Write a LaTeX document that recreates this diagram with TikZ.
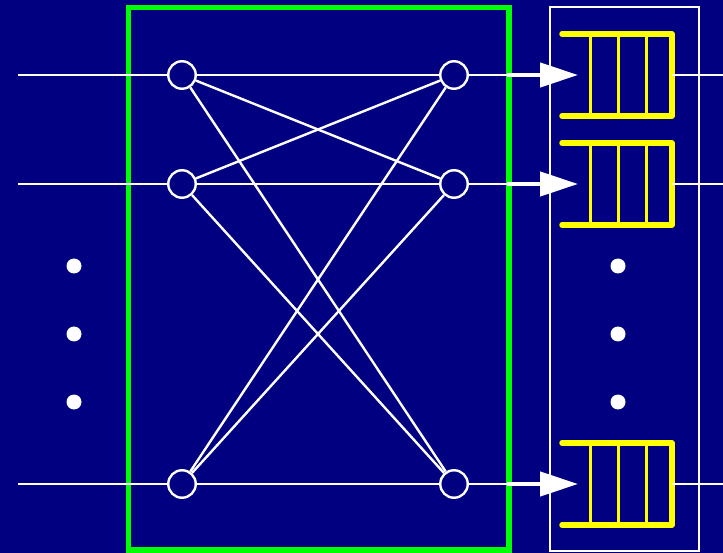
\documentclass[tikz,border=0pt]{standalone}
\usetikzlibrary{arrows.meta}
\definecolor{bg}{RGB}{0,0,128}
\definecolor{grn}{RGB}{0,255,0}
\definecolor{ylw}{RGB}{255,255,0}
\tikzset{
  sw/.style={circle,draw=white,line width=2.4pt,minimum size=27.5pt,inner sep=0pt},
  wire/.style={draw=white,line width=2.4pt},
  thickarrow/.style={draw=white,fill=white,line width=4.5pt,-{Triangle[length=38pt,width=24pt]}},
  qline/.style={draw=ylw,line width=5.5pt,line cap=round,line join=round},
  qdiv/.style={draw=ylw,line width=3pt},
  dotmark/.style={circle,fill=white,inner sep=0pt,minimum size=15pt},
}
\begin{document}
\begin{tikzpicture}[x=1pt,y=-1pt]
\useasboundingbox (0,0) rectangle (723,553);
\fill[bg] (0,0) rectangle (723,553);
% boxes
\draw[grn,line width=5.5pt] (128.5,7.5) rectangle (509,550);
\draw[white,line width=2.2pt] (550,7) rectangle (699,551);
% switch nodes
\node[sw] (L1) at (182,75) {};
\node[sw] (L2) at (182,184) {};
\node[sw] (L3) at (182,484) {};
\node[sw] (R1) at (454,75) {};
\node[sw] (R2) at (454,184) {};
\node[sw] (R3) at (454,484) {};
% input ends
\coordinate (I1) at (18,75);
\coordinate (I2) at (18,184);
\coordinate (I3) at (18,484);
\draw[wire] (I1) -- (L1);
\draw[wire] (I2) -- (L2);
\draw[wire] (I3) -- (L3);
% crossbar
\foreach \a in {1,2,3}{
  \foreach \b in {1,2,3}{
    \draw[wire] (L\a) -- (R\b);
  }
}
% arrows to queues
\foreach \i/\y in {1/75,2/184,3/484}{
  \coordinate (S\i) at (507,\y);
  \coordinate (T\i) at (578,\y);
  \draw[wire] (R\i) -- (S\i);
  \draw[thickarrow] (S\i) -- (T\i);
}
% queues
\foreach \i/\y in {1/75,2/184,3/484}{
  \draw[qdiv] (590.5,\y-41) -- (590.5,\y+41);
  \draw[qdiv] (618,\y-41) -- (618,\y+41);
  \draw[qdiv] (646,\y-41) -- (646,\y+41);
  \draw[qline] (562,\y-41) -- (672,\y-41) -- (672,\y+41) -- (562,\y+41);
  \coordinate (Q\i) at (672,\y);
  \coordinate (O\i) at (723,\y);
  \draw[wire] (Q\i) -- (O\i);
}
% ellipsis dots
\node[dotmark] (d1) at (74,266) {};
\node[dotmark] (d2) at (74,334) {};
\node[dotmark] (d3) at (74,402) {};
\node[dotmark] (d4) at (618,266) {};
\node[dotmark] (d5) at (618,334) {};
\node[dotmark] (d6) at (618,402) {};
\end{tikzpicture}
\end{document}
